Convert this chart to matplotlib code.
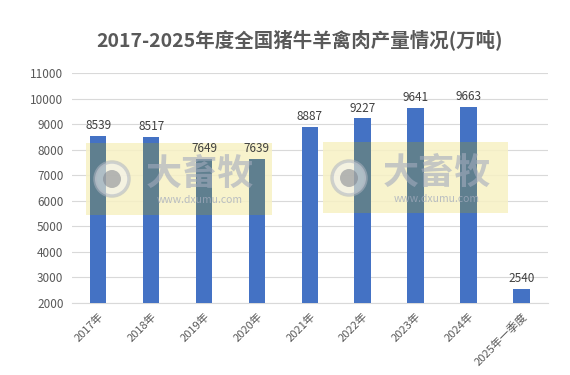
import matplotlib
matplotlib.use("Agg")
import matplotlib.pyplot as plt
from matplotlib.patches import Rectangle, Circle

plt.rcParams['font.family'] = ['Noto Sans CJK SC', 'DejaVu Sans']

categories = ["2017年", "2018年", "2019年", "2020年", "2021年", "2022年", "2023年", "2024年", "2025年一季度"]
values = [8539, 8517, 7649, 7639, 8887, 9227, 9641, 9663, 2540]
yticks = [2000, 3000, 4000, 5000, 6000, 7000, 8000, 9000, 10000, 11000]

W, H = 570, 375
fig = plt.figure(figsize=(5.7, 3.75), dpi=100)
ax = fig.add_axes([0.126, 0.192, 0.835, 0.613])

x = list(range(len(categories)))
bw = 0.31
ax.bar(x, values, width=bw, color="#4472C4", zorder=3)

ax.set_ylim(2000, 11000)
ax.set_xlim(-0.5, len(categories) - 0.5)
ax.set_yticks(yticks)
ax.set_yticklabels([str(t) for t in yticks], fontsize=8.5, color="#595959")
ax.set_xticks(x)
ax.set_xticklabels(categories, rotation=45, ha="right", rotation_mode="anchor", fontsize=8, color="#595959")
ax.yaxis.grid(True, color="#D9D9D9", linewidth=0.8, zorder=0)
ax.set_axisbelow(True)
ax.tick_params(length=0, pad=6)
for s in ["left", "right", "top"]:
    ax.spines[s].set_visible(False)
ax.spines["bottom"].set_color("#D9D9D9")

fig.text(0.526, 0.893, "2017-2025年度全国猪牛羊禽肉产量情况(万吨)", ha="center", va="center",
         fontsize=14, fontweight="bold", color="#595959")

fig.canvas.draw()
inv = ax.transData.inverted()

# watermarks (pixel boxes: left, top, width, height)
for (x0, y0, w, h) in [(86, 143, 186, 72), (323, 142, 185, 71)]:
    ax.add_patch(Rectangle((x0 / W, 1 - (y0 + h) / H), w / W, h / H, transform=fig.transFigure,
                           facecolor="#F7F1C4", alpha=0.85, edgecolor="none", zorder=1, clip_on=False))
    (dx0, dy0) = inv.transform((x0, H - (y0 + h)))
    (dx1, dy1) = inv.transform((x0 + w, H - y0))
    # tinted portion of bars lying under the watermark
    for xi, v in zip(x, values):
        if dx0 <= xi <= dx1 and v > dy0:
            ax.bar(xi, min(v, dy1) - dy0, bottom=dy0, width=bw, color="#5F7F8F", zorder=4)
    ccx, ccy = x0 + 26, H - (y0 + 36)
    fig.patches.append(Circle((ccx, ccy), 17, transform=None, facecolor="#F2F2F4",
                              edgecolor="#AEB4C0", linewidth=2.5, alpha=0.55, zorder=6))
    fig.patches.append(Circle((ccx, ccy), 9, transform=None, facecolor="#80848C",
                              edgecolor="none", alpha=0.55, zorder=7))
    fig.text((x0 + 114) / W, 1 - (y0 + 31) / H, "大畜牧", ha="center", va="center",
             fontsize=26, fontweight="bold", color="#A3ABBD", alpha=0.6, zorder=8)
    fig.text((x0 + 114) / W, 1 - (y0 + 57) / H, "www.dxumu.com", ha="center", va="center",
             fontsize=7.5, color="#A3ABBD", alpha=0.75, zorder=8)

# value labels
for xi, v in zip(x, values):
    ax.text(xi, v + 150, str(v), ha="center", va="bottom", fontsize=8.5, color="#404040", zorder=10)

fig.savefig("out.png", dpi=100)
